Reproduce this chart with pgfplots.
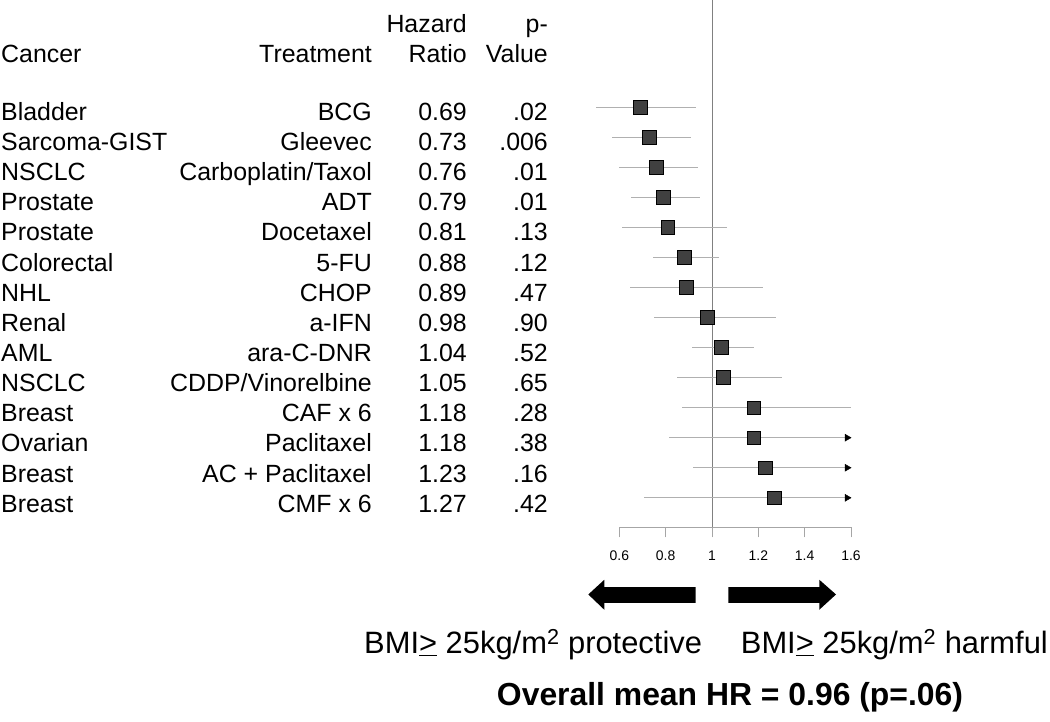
\documentclass[border=0pt]{standalone}
\usepackage{pgfplots}
\pgfplotsset{compat=1.18}
\usepackage{pgfplotstable}
\usepackage{fontspec}
\setmainfont{Liberation Sans}

\definecolor{sqGray}{HTML}{404040}
\definecolor{ciGray}{HTML}{B0B0B0}
\definecolor{vlGray}{HTML}{808080}
\definecolor{axGray}{HTML}{A6A6A6}

% row, hazard ratio, lower and upper CI (upper clipped at 1.6)
\pgfplotstableread{
row hr lo hi
1 0.69 0.50 0.93
2 0.73 0.57 0.91
3 0.76 0.60 0.94
4 0.79 0.65 0.95
5 0.81 0.61 1.065
6 0.88 0.745 1.03
7 0.89 0.645 1.22
8 0.98 0.75 1.275
9 1.04 0.915 1.18
10 1.05 0.85 1.30
11 1.18 0.87 1.60
12 1.18 0.815 1.60
13 1.23 0.92 1.60
14 1.27 0.705 1.60
}\forest

\begin{document}
\begin{tikzpicture}
\begin{scope}[x=1bp,y=-1bp]
  \useasboundingbox (0,0) rectangle (1050,721);
  % header
  \begin{scope}[every node/.style={inner sep=0pt,font=\fontsize{25}{30}\selectfont}]
    \node[anchor=base east] at (467,32) {Hazard};
    \node[anchor=base east] at (548,32) {p-};
    \node[anchor=base west] at (1,62) {Cancer};
    \node[anchor=base east] at (372,62) {Treatment};
    \node[anchor=base east] at (467,62) {Ratio};
    \node[anchor=base east] at (548,62) {Value};
    \foreach \c/\t/\h/\p [count=\i] in {
      Bladder/BCG/0.69/.02,
      Sarcoma-GIST/Gleevec/0.73/.006,
      NSCLC/{Carboplatin/Taxol}/0.76/.01,
      Prostate/ADT/0.79/.01,
      Prostate/Docetaxel/0.81/.13,
      Colorectal/5-FU/0.88/.12,
      NHL/CHOP/0.89/.47,
      Renal/a-IFN/0.98/.90,
      AML/ara-C-DNR/1.04/.52,
      NSCLC/{CDDP/Vinorelbine}/1.05/.65,
      Breast/CAF x 6/1.18/.28,
      Ovarian/Paclitaxel/1.18/.38,
      Breast/AC + Paclitaxel/1.23/.16,
      Breast/CMF x 6/1.27/.42} {
      \pgfmathsetmacro\yb{120+30.13*(\i-1)}
      \node[anchor=base west] at (1,\yb) {\c};
      \node[anchor=base east] at (372,\yb) {\t};
      \node[anchor=base east] at (467,\yb) {\h};
      \node[anchor=base east] at (548,\yb) {\p};
    }
  \end{scope}
  % direction arrows
  \fill[black] (588.3,594) -- (604.3,579.3) -- (604.3,586.7) -- (695.7,586.7)
    -- (695.7,602.3) -- (604.3,602.3) -- (604.3,609.3) -- cycle;
  \fill[black] (836,594) -- (819.3,579.3) -- (819.3,586.7) -- (728.3,586.7)
    -- (728.3,602.3) -- (819.3,602.3) -- (819.3,609.3) -- cycle;
  \node[anchor=base west,inner sep=0pt,font=\fontsize{31}{36}\selectfont] at (364,653)
    {BMI\underline{>} 25kg/m\textsuperscript{2} protective};
  \node[anchor=base east,inner sep=0pt,font=\fontsize{31}{36}\selectfont] at (1048,653)
    {BMI\underline{>} 25kg/m\textsuperscript{2} harmful};
  \node[anchor=base,inner sep=0pt,font=\bfseries\fontsize{32}{38}\selectfont] at (730,705)
    {Overall mean HR = 0.96 (p=.06)};
\end{scope}

\begin{axis}[
  at={(619.3bp,-527bp)}, anchor=south west,
  scale only axis, width=231.7bp, height=527bp,
  xmin=0.6, xmax=1.6, ymin=-14.987, ymax=2.551,
  axis x line=bottom, axis y line=none,
  x axis line style={-, draw=axGray, line width=0.9bp},
  xtick={0.6,0.8,1,1.2,1.4,1.6},
  xticklabels={0.6,0.8,1,1.2,1.4,1.6},
  tick align=outside, major tick length=10bp,
  xtick style={draw=axGray, line width=0.9bp},
  xticklabel style={font=\fontsize{14}{16}\selectfont, yshift=-10bp},
  clip=false,
]
  \addplot[vlGray, line width=0.9bp] coordinates {(1,2.551) (1,-14.987)};
  \addplot[only marks, mark=none,
    error bars/.cd, x dir=both, x explicit, error mark=none,
    error bar style={draw=ciGray, line width=1.2bp}]
    table[x=hr, y expr=-\thisrow{row},
      x error minus expr=\thisrow{hr}-\thisrow{lo},
      x error plus expr=\thisrow{hi}-\thisrow{hr}] {\forest};
  \addplot[only marks, mark=triangle*, mark size=4bp,
    mark options={rotate=-90, fill=black, draw=black}]
    coordinates {(1.583,-12) (1.583,-13) (1.583,-14)};
  \addplot[only marks, mark=square*, mark size=6.8bp,
    mark options={fill=sqGray, draw=black, line width=0.7bp}]
    table[x=hr, y expr=-\thisrow{row}] {\forest};
\end{axis}
\end{tikzpicture}
\end{document}
